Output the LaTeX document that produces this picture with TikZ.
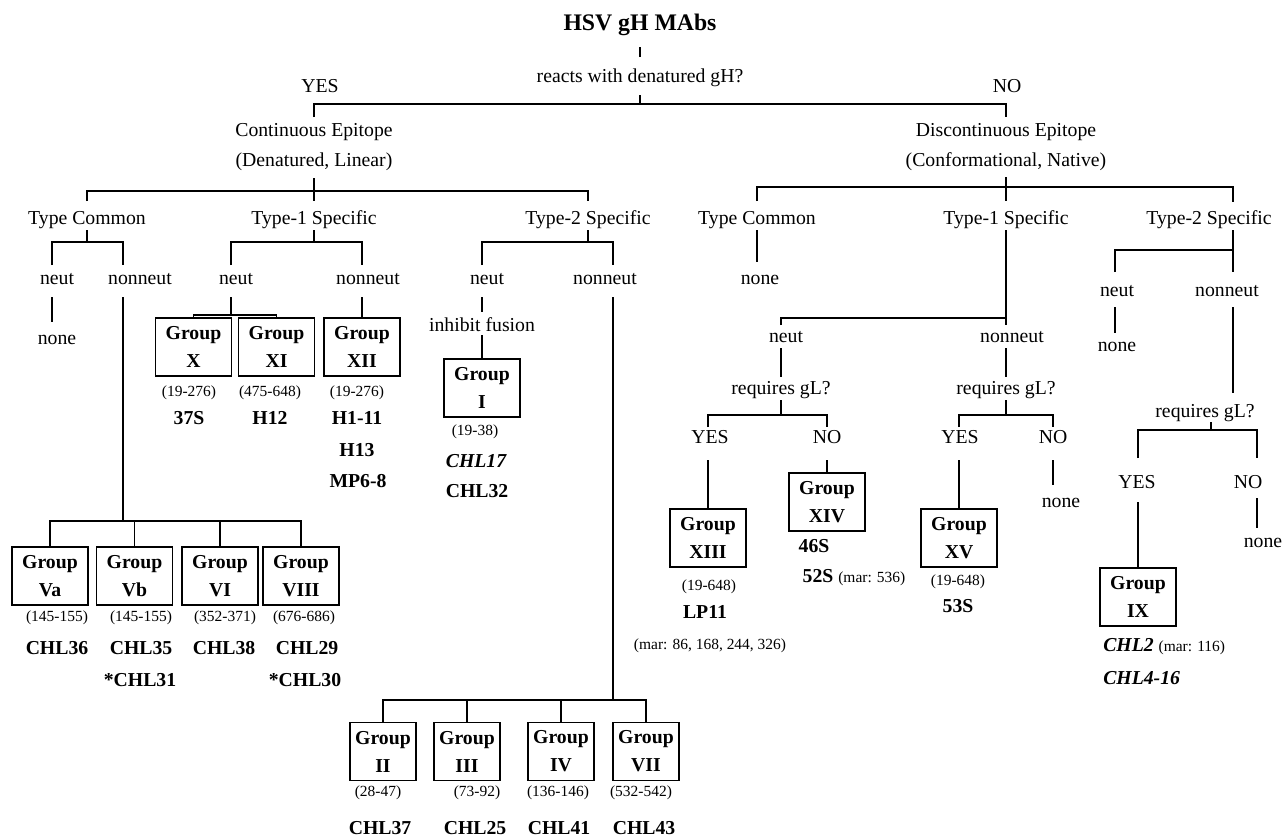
\documentclass[tikz,border=0pt]{standalone}
\usepackage{fontspec}
\setmainfont{Liberation Serif}
\usetikzlibrary{calc}
\begin{document}
\begin{tikzpicture}[x=0.75pt,y=-0.75pt,
  lbl/.style={font=\fontsize{14.8}{17}\selectfont, inner sep=0pt, text height=10pt, text depth=3pt},
  sm/.style={font=\fontsize{11.6}{14}\selectfont, inner sep=0pt, text height=8pt, text depth=2.5pt},
  bf/.style={font=\fontsize{14.8}{17}\selectfont\bfseries, inner sep=0pt, text height=10pt, text depth=3pt},
  bi/.style={font=\fontsize{14.8}{17}\selectfont\bfseries\itshape, inner sep=0pt, text height=10pt, text depth=3pt},
  ttl/.style={font=\fontsize{17.8}{20}\selectfont\bfseries, inner sep=0pt, text height=12pt, text depth=4pt},
  grp/.style={draw, line width=1.3pt, font=\fontsize{14.8}{17}\selectfont\bfseries, align=center,
              minimum width=57pt, minimum height=43.5pt, inner sep=0pt},
  grpn/.style={grp, minimum width=49pt},
  ln/.style={line width=1.3pt}]
\useasboundingbox (0,0) rectangle (1283,839);
\fill[white] (0,0) rectangle (1283,839);

% ---------- top ----------
\node[ttl] (title) at (640,25) {HSV gH MAbs};
\node[lbl] (q1) at (640,78) {reacts with denatured gH?};
\node[lbl] (yes1) at (320,88) {YES};
\node[lbl] (no1) at (1007,88) {NO};
\node[lbl] (ce1) at (314,132) {Continuous Epitope};
\node[lbl] (ce2) at (314,162) {(Denatured, Linear)};
\node[lbl] (de1) at (1006,132) {Discontinuous Epitope};
\node[lbl] (de2) at (1006,162) {(Conformational, Native)};
\coordinate (b1) at (640,104);
\draw[ln] ($(title)+(0,22)$) -- ($(q1)+(0,-21)$);
\draw[ln] ($(q1)+(0,17)$) -- (b1);
\draw[ln] ($(ce1)+(0,-15)$) |- (b1) -| ($(de1)+(0,-15)$);

% ---------- type level ----------
\node[lbl] (tc) at (87,220) {Type Common};
\node[lbl] (t1) at (314,220) {Type-1 Specific};
\node[lbl] (t2) at (588,220) {Type-2 Specific};
\node[lbl] (rtc) at (757,220) {Type Common};
\node[lbl] (rt1) at (1006,220) {Type-1 Specific};
\node[lbl] (rt2) at (1209,220) {Type-2 Specific};
\coordinate (b2) at (314,191);
\coordinate (rb2) at (1006,187);
\draw[ln] ($(ce2)+(0,16)$) -- ($(t1)+(0,-19)$);
\draw[ln] ($(tc)+(0,-19)$) |- (b2) -| ($(t2)+(0,-19)$);
\draw[ln] ($(de2)+(0,15)$) -- ($(rt1)+(0,-19)$);
\draw[ln] ($(rtc)+(0,-19)$) |- (rb2) -| ($(rt2)+(24,-18)$);

% ---------- left: Type Common ----------
\node[lbl] (tcn) at (57,280) {neut};
\node[lbl] (tcnn) at (140,280) {nonneut};
\coordinate (b3) at (87,242);
\draw[ln] ($(tc)+(0,10)$) -- (b3);
\draw[ln] ($(tcn)+(-5,-15)$) |- (b3) -| ($(tcnn)+(-17,-15)$);
\node[lbl] (tcnone) at (57,340) {none};
\draw[ln] ($(tcn)+(-5,17)$) -- ($(tcnone)+(-5,-18)$);

\node[grp] (Va) at (50,576) {Group\\[4pt]Va};
\node[grp] (Vb) at (134.5,576) {Group\\[4pt]Vb};
\node[grp] (VI) at (220,576) {Group\\[4pt]VI};
\node[grp] (VIII) at (301,576) {Group\\[4pt]VIII};
\coordinate (b4) at (123,521);
\draw[ln] ($(tcnn)+(-17,17)$) -- (b4);
\draw[ln] (Va.north) |- (b4) -| (VIII.north);
\draw[ln] (Vb.north) -- (Vb.north |- b4);
\draw[ln] (VI.north) -- (VI.north |- b4);
\node[sm] (rVa) at (57,618) {(145-155)};
\node[sm] (rVb) at (141,618) {(145-155)};
\node[sm] (rVI) at (225,618) {(352-371)};
\node[sm] (rVIII) at (304,618) {(676-686)};
\node[bf] (mVa) at (57,650) {CHL36};
\node[bf] (mVb) at (141,650) {CHL35};
\node[bf] (mVI) at (224,650) {CHL38};
\node[bf] (mVIII) at (307,650) {CHL29};
\node[bf] (mVb2) at (140,682) {*CHL31};
\node[bf] (mVIII2) at (305,682) {*CHL30};

% ---------- left: Type-1 Specific ----------
\node[lbl] (t1n) at (236,280) {neut};
\node[lbl] (t1nn) at (368,280) {nonneut};
\coordinate (b5) at (314,242);
\draw[ln] ($(t1)+(0,10)$) -- (b5);
\draw[ln] ($(t1n)+(-5,-15)$) |- (b5) -| ($(t1nn)+(-6,-15)$);
\coordinate (b6) at (231,315);
\draw[ln] ($(t1n)+(-5,17)$) -- (b6);
\node[grp] (X) at (193.5,347) {Group\\[4pt]X};
\node[grp] (XI) at (276.5,347) {Group\\[4pt]XI};
\node[grp] (XII) at (362,347) {Group\\[4pt]XII};
\draw[ln] (X.north) |- (b6) -| (XI.north);
\draw[ln] ($(t1nn)+(-6,17)$) -- (XII.north);
\node[sm] (rX) at (189,393) {(19-276)};
\node[sm] (rXI) at (270,393) {(475-648)};
\node[sm] (rXII) at (357,393) {(19-276)};
\node[bf] (mX) at (189,420) {37S};
\node[bf] (mXI) at (270,420) {H12};
\node[bf] (mXII) at (357,420) {H1-11};
\node[bf] (mXII2) at (357,452) {H13};
\node[bf] (mXII3) at (358,483) {MP6-8};

% ---------- left: Type-2 Specific ----------
\node[lbl] (t2n) at (487,280) {neut};
\node[lbl] (t2nn) at (605,280) {nonneut};
\coordinate (b7) at (588,242);
\draw[ln] ($(t2)+(0,10)$) -- (b7);
\draw[ln] ($(t2n)+(-5,-15)$) |- (b7) -| ($(t2nn)+(8,-15)$);
\node[lbl] (inh) at (482,327) {inhibit fusion};
\draw[ln] ($(t2n)+(-5,17)$) -- ($(inh)+(0,-15)$);
\node[grp] (I) at (482,388) {Group\\[4pt]I};
\draw[ln] ($(inh)+(0,8)$) -- (I.north);
\node[sm] (rI) at (475,432) {(19-38)};
\node[bi] (mI) at (476,463) {CHL17};
\node[bf] (mI2) at (477,493) {CHL32};

\coordinate (b8) at (613,700);
\draw[ln] ($(t2nn)+(8,17)$) -- (b8);
\node[grpn] (II) at (383,751.5) {Group\\[4pt]II};
\node[grpn] (III) at (467,751.5) {Group\\[4pt]III};
\node[grpn] (IV) at (561,751.5) {Group\\[4pt]IV};
\node[grpn] (VII) at (646,751.5) {Group\\[4pt]VII};
\draw[ln] (II.north) |- (b8) -| (VII.north);
\draw[ln] (III.north) -- (III.north |- b8);
\draw[ln] (IV.north) -- (IV.north |- b8);
\node[sm] (rII) at (378,793) {(28-47)};
\node[sm] (rIII) at (477,793) {(73-92)};
\node[sm] (rIV) at (558,793) {(136-146)};
\node[sm] (rVII) at (641,793) {(532-542)};
\node[bf] (mII) at (380,830) {CHL37};
\node[bf] (mIII) at (475,830) {CHL25};
\node[bf] (mIV) at (559,830) {CHL41};
\node[bf] (mVII) at (644,830) {CHL43};

% ---------- right: Type Common ----------
\node[lbl] (rtcnone) at (760,280) {none};
\draw[ln] ($(rtc)+(0,10)$) -- ($(rtcnone)+(-3,-18)$);

% ---------- right: Type-1 Specific ----------
\node[lbl] (rt1n) at (786,338) {neut};
\node[lbl] (rt1nn) at (1012,338) {nonneut};
\coordinate (b9) at (1006,318);
\draw[ln] ($(rt1)+(0,10)$) -- ($(rt1nn)+(-6,-13)$);
\draw[ln] ($(rt1n)+(-5,-13)$) |- (b9);
\node[lbl] (req1) at (781,390) {requires gL?};
\draw[ln] ($(rt1n)+(-5,10)$) -- ($(req1)+(0,-13)$);
\coordinate (b10) at (781,415);
\draw[ln] ($(req1)+(0,10)$) -- (b10);
\node[lbl] (yes2) at (710,439) {YES};
\node[lbl] (no2) at (827,439) {NO};
\draw[ln] ($(yes2)+(-2,-12)$) |- (b10) -| ($(no2)+(0,-12)$);
\node[grp] (XIII) at (708,538) {Group\\[4pt]XIII};
\node[grp] (XIV) at (827,502) {Group\\[4pt]XIV};
\draw[ln] ($(yes2)+(-2,21)$) -- (XIII.north);
\draw[ln] ($(no2)+(0,21)$) -- (XIV.north);
\node[sm] (rXIII) at (709,587) {(19-648)};
\node[bf] (mXIII) at (705,614) {LP11};
\node[sm] (mXIII2) at (710,646) {(mar: 86, 168, 244, 326)};
\node[bf] (mXIV) at (814,548) {46S};
\node[lbl] (mXIV2) at (854,578) {\bfseries 52S \fontsize{11.6}{14}\mdseries\selectfont(mar: 536)};

\node[lbl] (req2) at (1006,390) {requires gL?};
\draw[ln] ($(rt1nn)+(-6,10)$) -- ($(req2)+(0,-13)$);
\coordinate (b11) at (1006,415);
\draw[ln] ($(req2)+(0,10)$) -- (b11);
\node[lbl] (yes3) at (960,439) {YES};
\node[lbl] (no3) at (1053,439) {NO};
\draw[ln] ($(yes3)+(-1,-12)$) |- (b11) -| ($(no3)+(0,-12)$);
\node[grp] (XV) at (959,538) {Group\\[4pt]XV};
\draw[ln] ($(yes3)+(-1,21)$) -- (XV.north);
\node[lbl] (none3) at (1061,503) {none};
\draw[ln] ($(no3)+(0,21)$) -- ($(none3)+(-8,-18)$);
\node[sm] (rXV) at (958,582) {(19-648)};
\node[bf] (mXV) at (958,608) {53S};

% ---------- right: Type-2 Specific ----------
\coordinate (b12) at (1233,250);
\draw[ln] ($(rt2)+(24,10)$) -- (b12);
\node[lbl] (rt2n) at (1117,292) {neut};
\node[lbl] (rt2nn) at (1227,292) {nonneut};
\draw[ln] ($(rt2n)+(-2,-20)$) |- (b12) -- ($(rt2nn)+(6,-20)$);
\node[lbl] (rt2none) at (1117,347) {none};
\draw[ln] ($(rt2n)+(-2,15)$) -- ($(rt2none)+(-2,-14)$);
\node[lbl] (req3) at (1205,413) {requires gL?};
\draw[ln] ($(rt2nn)+(6,15)$) -- ($(req3)+(28,-20)$);
\coordinate (b13) at (1211,430);
\draw[ln] ($(req3)+(6,9)$) -- (b13);
\node[lbl] (yes4) at (1137,484) {YES};
\node[lbl] (no4) at (1248,484) {NO};
\draw[ln] ($(yes4)+(1,-26)$) |- (b13) -| ($(no4)+(9,-26)$);
\node[grp] (IX) at (1138,597) {Group\\[4pt]IX};
\draw[ln] ($(yes4)+(1,18)$) -- (IX.north);
\node[lbl] (none4) at (1263,543) {none};
\draw[ln] ($(no4)+(9,14)$) -- ($(none4)+(-6,-15)$);
\node[bi, anchor=west] (mIX) at (1103,647) {CHL2 {\fontsize{11.6}{14}\mdseries\upshape\selectfont(mar: 116)}};
\node[bi, anchor=west] (mIX2) at (1103,680) {CHL4-16};
\end{tikzpicture}
\end{document}
